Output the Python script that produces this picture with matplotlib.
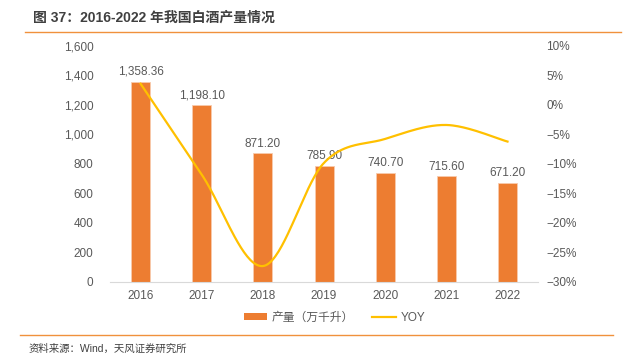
import numpy as np
import matplotlib
matplotlib.use("Agg")
import matplotlib.pyplot as plt
from matplotlib.lines import Line2D
from matplotlib.patches import Patch
from matplotlib.ticker import FuncFormatter

plt.rcParams['font.family'] = ['Liberation Sans', 'Noto Sans CJK SC', 'DejaVu Sans']

# data
years = ['2016', '2017', '2018', '2019', '2020', '2021', '2022']
output = [1358.36, 1198.10, 871.20, 785.90, 740.70, 715.60, 671.20]
yoy = [3.6, -11.8, -27.3, -9.8, -5.75, -3.39, -6.2]

BAR = '#ED7D31'
LINE = '#FFC000'
GRAY = '#595959'


def smooth(xs, ys, n=40):
    # Catmull-Rom curve through the points (like Excel's smoothed line)
    xs = np.asarray(xs, float)
    ys = np.asarray(ys, float)
    px = np.concatenate([[xs[0]], xs, [xs[-1]]])
    py = np.concatenate([[ys[0]], ys, [ys[-1]]])
    ox, oy = [], []
    t = np.linspace(0, 1, n)
    for i in range(1, len(px) - 2):
        for arr, out in ((px, ox), (py, oy)):
            p0, p1, p2, p3 = arr[i - 1], arr[i], arr[i + 1], arr[i + 2]
            m1 = (p2 - p0) / 2
            m2 = (p3 - p1) / 2
            h00 = 2 * t**3 - 3 * t**2 + 1
            h10 = t**3 - 2 * t**2 + t
            h01 = -2 * t**3 + 3 * t**2
            h11 = t**3 - t**2
            out.extend(h00 * p1 + h10 * m1 + h01 * p2 + h11 * m2)
    return np.array(ox), np.array(oy)


fig = plt.figure(figsize=(6.37, 3.64), dpi=100)
ax = fig.add_axes([0.1727, 0.2253, 0.672, 0.6484])
x = np.arange(len(years))

ax.bar(x, output, width=0.31, color=BAR, edgecolor='#F8CBAD', linewidth=0.6, zorder=2)
for xi, v in zip(x, output):
    ax.text(xi, v + 25, f'{v:,.2f}', ha='center', va='bottom', fontsize=8.5, color=GRAY)

ax.set_xlim(-0.5, len(years) - 0.5)
ax.set_ylim(0, 1600)
ax.set_yticks(range(0, 1601, 200))
ax.yaxis.set_major_formatter(FuncFormatter(lambda v, p: f'{int(v):,}'))
ax.set_xticks(x)
ax.set_xticklabels(years)
for s in ['top', 'right', 'left']:
    ax.spines[s].set_visible(False)
ax.spines['bottom'].set_color('#D9D9D9')
ax.tick_params(axis='both', length=0, labelsize=8.5, labelcolor=GRAY)
ax.tick_params(axis='y', pad=12)
ax.tick_params(axis='x', pad=6)

ax2 = ax.twinx()
sx, sy = smooth(x, yoy)
ax2.plot(sx, sy, color=LINE, lw=1.6, zorder=3)
ax2.set_ylim(-30, 10)
ax2.set_yticks(range(-30, 11, 5))
ax2.yaxis.set_major_formatter(FuncFormatter(lambda v, p: f'{int(v)}%'.replace('-', '\u2212')))
for s in ax2.spines.values():
    s.set_visible(False)
ax2.tick_params(axis='y', length=0, labelsize=8.5, labelcolor=GRAY, pad=6)

handles = [Patch(facecolor=BAR, edgecolor='none'), Line2D([0], [0], color=LINE, lw=1.6)]
fig.legend(handles, ['产量（万千升）', 'YOY'], loc='center', bbox_to_anchor=(0.525, 0.127),
           ncol=2, frameon=False, fontsize=8.5, labelcolor=GRAY, handlelength=2.0,
           handleheight=0.5, columnspacing=1.5, handletextpad=0.4)

# title, separators and source
fig.text(0.052, 0.951, '图 37：2016-2022 年我国白酒产量情况', fontsize=10, weight='bold',
         color='#404040', va='center')
fig.add_artist(Line2D([0.039, 0.975], [0.912, 0.912], color='#F0913C', lw=1.0))
fig.add_artist(Line2D([0.031, 0.962], [0.079, 0.079], color='#F0913C', lw=1.0))
fig.text(0.044, 0.041, '资料来源：Wind，天风证券研究所', fontsize=7.5, color='#404040', va='center')

fig.savefig('out.png', dpi=100)
